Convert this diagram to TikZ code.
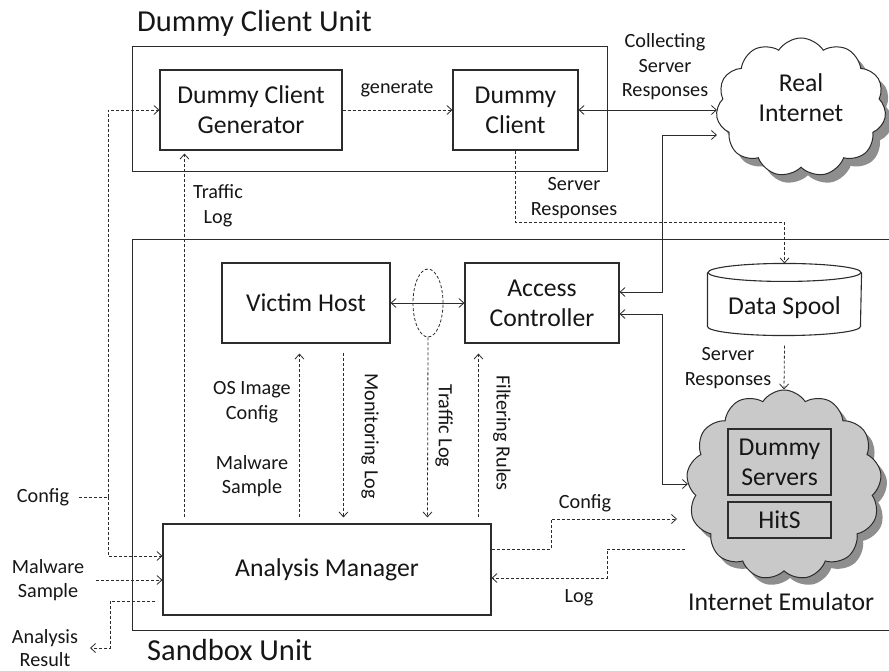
\documentclass[tikz,border=0pt]{standalone}
\usepackage{fontspec}
\setmainfont{Carlito}
\usetikzlibrary{arrows.meta,shapes.geometric,shapes.symbols,shadows}
\definecolor{ink}{HTML}{161616}
\definecolor{frame}{HTML}{2C2C2C}
\definecolor{cloudgray}{HTML}{C9C9C9}
\definecolor{shadowgray}{HTML}{8E8E8E}
\begin{document}
\begin{tikzpicture}[x=1pt,y=-1pt,
  box/.style={draw=frame, line width=1.1pt, text=ink, font=\fontsize{25.7}{30}\selectfont, align=center, inner sep=0pt},
  unit/.style={draw=frame, line width=1.2pt},
  title/.style={text=ink, font=\fontsize{30.5}{35}\selectfont, inner sep=0pt},
  lab/.style={text=ink, font=\fontsize{20.2}{24.5}\selectfont, align=center, inner sep=2pt},
  conn/.style={draw=frame, line width=0.8pt},
  dconn/.style={conn, dash pattern=on 3pt off 2pt},
  tipend/.style={-{Straight Barb[length=5pt,width=9pt]}},
  tipboth/.style={{Straight Barb[length=5pt,width=9pt]}-{Straight Barb[length=5pt,width=9pt]}},
  cloudy/.style={cloud, cloud puffs=11, cloud puff arc=115, cloud ignores aspect, draw=frame, line width=1pt, inner sep=0pt},
]
\useasboundingbox (0,0) rectangle (889,671);

% unit frames
\node[draw=none, inner sep=0pt, minimum width=474pt, minimum height=124pt] (dcu) at (370,109) {};
\draw[unit] (dcu.north west) rectangle (dcu.south east);
\node[draw=none, inner sep=0pt, minimum width=770pt, minimum height=390pt] (sbu) at (518,435) {};
\draw[unit] (sbu.north west) rectangle (sbu.south east);
\node[title, anchor=base west] (dcut) at (137,32) {Dummy Client Unit};
\node[title, anchor=base west] (sbut) at (147,660) {Sandbox Unit};

% boxes
\node[box, minimum width=182pt, minimum height=80pt] (gen) at (251,110) {Dummy Client\\Generator};
\node[box, minimum width=125pt, minimum height=80pt] (dc) at (515.5,110) {Dummy\\Client};
\node[box, minimum width=168pt, minimum height=80pt] (vh) at (306,303) {Victim Host};
\node[box, minimum width=154pt, minimum height=80pt] (ac) at (542,303) {Access\\Controller};
\node[box, minimum width=328pt, minimum height=91pt] (am) at (327,569.5) {Analysis Manager};

% data spool (cylinder)
\node[box, draw=none, minimum width=153pt, minimum height=71pt, text height=34pt, text depth=5pt] (spool) at (784.5,299.5) {Data Spool};
\draw[frame, line width=1.1pt] ([yshift=-9pt]spool.north) ellipse [x radius=76.5pt, y radius=9pt];
\draw[frame, line width=1.1pt] ([yshift=-9pt]spool.north west) -- ([yshift=9pt]spool.south west)
  arc[start angle=180, end angle=360, x radius=76.5pt, y radius=9pt] -- ([yshift=-9pt]spool.north east);

% clouds
\node[cloudy, fill=white, minimum width=170pt, minimum height=139pt,
  general shadow={fill=shadowgray, shadow xshift=7pt, shadow yshift=-8pt},
  text=ink, font=\fontsize{25.7}{30}\selectfont, align=center] (ri) at (801,107.5) {Real\\Internet\\[-10pt]\mbox{}};
\node[cloudy, cloud puffs=13, fill=cloudgray, minimum width=195pt, minimum height=190pt,
  general shadow={fill=shadowgray, shadow xshift=6pt, shadow yshift=-7pt}] (ie) at (784,485) {};
\node[box, minimum width=103pt, minimum height=66pt] (dsv) at (779.5,462) {Dummy\\Servers};
\node[box, minimum width=103pt, minimum height=36pt] (hits) at (779.5,520) {HitS};
\node[title, font=\fontsize{25.7}{30}\selectfont, anchor=base west] (iet) at (688,610) {Internet Emulator};

% victim ellipse
\node[ellipse, draw=frame, dconn, minimum width=30pt, minimum height=68pt, inner sep=0pt] (tl) at (428,303) {};

% labels
\node[lab] (lgen) at (397,89) {generate};
\node[lab] (lcsr) at (665,67) {Collecting\\Server\\Responses};
\node[lab] (ltl1) at (218,206) {Traffic\\Log};
\node[lab] (lsr1) at (574,198) {Server\\Responses};
\node[lab] (losi) at (252,402) {OS Image\\Config};
\node[lab] (lms1) at (252,476) {Malware\\Sample};
\node[lab, rotate=-90] (lmon) at (370,436) {Monitoring Log};
\node[lab, rotate=-90] (ltl2) at (444,426) {Traffic Log};
\node[lab, rotate=-90] (lfr) at (502,433) {Filtering Rules};
\node[lab] (lsr2) at (728,368) {Server\\Responses};
\node[lab] (lcfg2) at (585,503) {Config};
\node[lab] (llog) at (579,598) {Log};
\node[lab] (lcfg1) at (43,497) {Config};
\node[lab] (lms2) at (48,580) {Malware\\Sample};
\node[lab, font=\fontsize{20.2}{22.5}\selectfont] (lar) at (45,648) {Analysis\\Result};

% junction coordinates
\coordinate (jl) at (108,497);
\coordinate (jr) at (662,135);
\coordinate (je) at (662,484);
\coordinate (jsr) at (784.5,222);
\coordinate (jc) at (551,519);
\coordinate (cfgend) at (677,519);
\coordinate (lgstart) at (685,549);
\coordinate (jlg) at (607,578);
\coordinate (jar) at (110,648);
\coordinate (arend) at (90,648);

% top unit connectors
\draw[dconn, tipend] (gen.east) -- (dc.west);
\draw[conn, tipboth] (dc.east) -- (dc.east -| ri.west);
\draw[conn, tipboth] ([yshift=11pt]ac.east) -| (jr) -- (jr -| ri.west);
\draw[conn, tipboth] ([yshift=-11pt]ac.east) -| (je) -- (je -| ie.west);
\draw[dconn, tipend] (dc.south) |- (jsr) -- (spool.north);
\draw[dconn, tipend] ([yshift=-10pt]spool.south) -- (ie.north);

% sandbox connectors
\draw[conn, tipboth] (vh.east) -- (ac.west);
\draw[dconn, tipend] ([xshift=22pt,yshift=6pt]am.north west) -- ([xshift=25pt,yshift=-3pt]gen.south west);
\draw[dconn, tipend] ([xshift=137pt,yshift=6pt]am.north west) -- ([xshift=78pt,yshift=-10pt]vh.south west);
\draw[dconn, tipend] ([xshift=122pt,yshift=-9pt]vh.south west) -- ([xshift=181pt,yshift=6pt]am.north west);
\draw[dconn, tipend] (tl.south) -- ([xshift=265pt,yshift=6pt]am.north west);
\draw[dconn, tipend] ([xshift=316pt,yshift=6pt]am.north west) -- ([xshift=14pt,yshift=-10pt]ac.south west);

% inputs / outputs
\draw[dconn] ([xshift=8pt]lcfg1.east) -- (jl);
\draw[dconn, tipend] (jl) |- (gen.west);
\draw[dconn, tipend] (jl) |- ([yshift=13.5pt]am.west);
\draw[dconn, tipend] ([xshift=10pt]lms2.east) -- (lms2.east -| am.west);
\draw[dconn, tipend] ([xshift=-7pt,yshift=-31.5pt]am.west) -| (jar) -- (arend);
\draw[dconn, tipend] ([yshift=20.5pt]am.east) -| (jc) -- (cfgend);
\draw[dconn, tipend] (lgstart) -| (jlg) -- ([yshift=-8.5pt]am.east);
\end{tikzpicture}
\end{document}
